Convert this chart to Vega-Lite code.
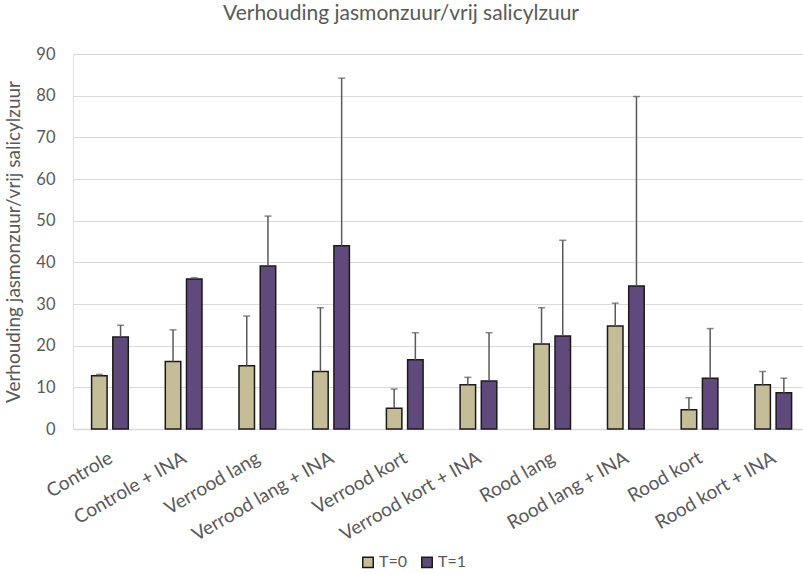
{
  "$schema": "https://vega.github.io/schema/vega-lite/v6.json",
  "autosize": {"type": "none"},
  "width": 730,
  "height": 375,
  "padding": {"left": 73, "top": 54, "right": 0, "bottom": 145},
  "background": "white",
  "title": {
    "text": "Verhouding jasmonzuur/vrij salicylzuur",
    "font": "Lato",
    "fontSize": 21,
    "fontWeight": "normal",
    "color": "#595959",
    "anchor": "middle",
    "frame": "group",
    "dx": -37,
    "offset": 22
  },
  "data": {
    "values": [
      {"groep": "Controle", "T": "T=0", "waarde": 12.8, "boven": 13.1},
      {"groep": "Controle", "T": "T=1", "waarde": 22.1, "boven": 24.9},
      {"groep": "Controle + INA", "T": "T=0", "waarde": 16.2, "boven": 23.8},
      {"groep": "Controle + INA", "T": "T=1", "waarde": 36.0, "boven": 36.3},
      {"groep": "Verrood lang", "T": "T=0", "waarde": 15.2, "boven": 27.1},
      {"groep": "Verrood lang", "T": "T=1", "waarde": 39.1, "boven": 51.1},
      {"groep": "Verrood lang + INA", "T": "T=0", "waarde": 13.8, "boven": 29.1},
      {"groep": "Verrood lang + INA", "T": "T=1", "waarde": 44.0, "boven": 84.2},
      {"groep": "Verrood kort", "T": "T=0", "waarde": 5.0, "boven": 9.6},
      {"groep": "Verrood kort", "T": "T=1", "waarde": 16.6, "boven": 23.1},
      {"groep": "Verrood kort + INA", "T": "T=0", "waarde": 10.6, "boven": 12.4},
      {"groep": "Verrood kort + INA", "T": "T=1", "waarde": 11.5, "boven": 23.1},
      {"groep": "Rood lang", "T": "T=0", "waarde": 20.4, "boven": 29.1},
      {"groep": "Rood lang", "T": "T=1", "waarde": 22.3, "boven": 45.3},
      {"groep": "Rood lang + INA", "T": "T=0", "waarde": 24.7, "boven": 30.2},
      {"groep": "Rood lang + INA", "T": "T=1", "waarde": 34.3, "boven": 79.8},
      {"groep": "Rood kort", "T": "T=0", "waarde": 4.6, "boven": 7.5},
      {"groep": "Rood kort", "T": "T=1", "waarde": 12.2, "boven": 24.1},
      {"groep": "Rood kort + INA", "T": "T=0", "waarde": 10.6, "boven": 13.8},
      {"groep": "Rood kort + INA", "T": "T=1", "waarde": 8.7, "boven": 12.2}
    ]
  },
  "encoding": {
    "x": {
      "field": "groep",
      "type": "nominal",
      "sort": null,
      "scale": {"paddingInner": 0.502, "paddingOuter": 0.2035, "align": 0.62},
      "axis": {
        "title": null,
        "labelAngle": -30,
        "labelAlign": "right",
        "labelBaseline": "middle",
        "labelFont": "Lato",
        "labelFontSize": 19,
        "labelColor": "#595959",
        "labelPadding": 27,
        "labelOffset": 1,
        "ticks": false,
        "domainColor": "#d9d9d9",
        "domainWidth": 1.5,
        "grid": false
      }
    },
    "xOffset": {
      "field": "T",
      "type": "nominal",
      "scale": {"paddingInner": 0.27, "paddingOuter": 0}
    }
  },
  "layer": [
    {
      "mark": {"type": "bar", "stroke": "#1a1a1a", "strokeWidth": 1.5},
      "encoding": {
        "y": {
          "field": "waarde",
          "type": "quantitative",
          "scale": {"domain": [0, 90], "nice": false},
          "axis": {
            "values": [0, 10, 20, 30, 40, 50, 60, 70, 80, 90],
            "title": "Verhouding jasmonzuur/vrij salicylzuur",
            "titleFont": "Lato",
            "titleFontSize": 19,
            "titleFontWeight": "normal",
            "titleColor": "#595959",
            "titlePadding": 12,
            "labelFont": "Lato",
            "labelFontSize": 16.5,
            "labelColor": "#595959",
            "labelPadding": 18,
            "ticks": false,
            "domain": false,
            "grid": true,
            "gridColor": "#d9d9d9",
            "gridWidth": 1.2
          }
        },
        "color": {
          "field": "T",
          "type": "nominal",
          "scale": {"domain": ["T=0", "T=1"], "range": ["#c4bd97", "#604a7b"]},
          "legend": {
            "title": null,
            "orient": "none",
            "direction": "horizontal",
            "legendX": 287,
            "legendY": 500,
            "symbolType": "square",
            "symbolSize": 110,
            "symbolStrokeColor": "#1a1a1a",
            "symbolStrokeWidth": 1.5,
            "labelFont": "Lato",
            "labelFontSize": 16,
            "labelColor": "#595959",
            "labelOffset": 3,
            "columnPadding": 10
          }
        }
      }
    },
    {
      "mark": {"type": "rule", "color": "#595959", "strokeWidth": 1.5},
      "encoding": {
        "y": {"field": "waarde", "type": "quantitative"},
        "y2": {"field": "boven"}
      }
    },
    {
      "mark": {"type": "tick", "color": "#595959", "thickness": 1.5, "size": 7, "orient": "horizontal"},
      "encoding": {
        "y": {"field": "boven", "type": "quantitative"}
      }
    }
  ]
}
